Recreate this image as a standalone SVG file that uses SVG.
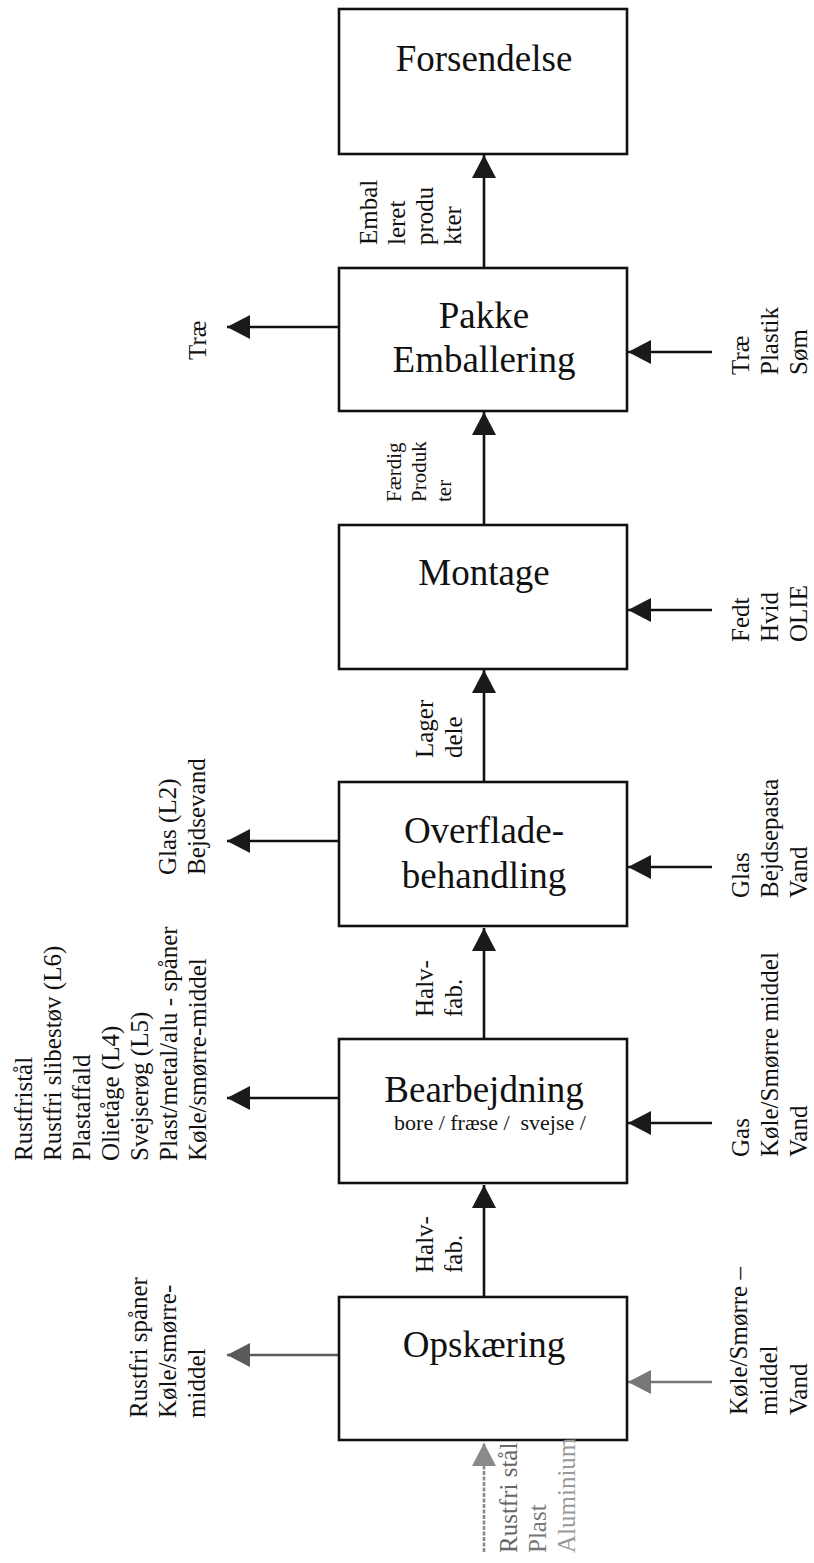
<svg xmlns="http://www.w3.org/2000/svg" width="814" height="1563" viewBox="0 0 814 1563">
<defs>
<style>
text{font-family:"Liberation Serif","Times New Roman",serif;fill:#111}
.t{font-size:37px;text-anchor:middle}
.s{font-size:22px;text-anchor:middle}
.l{font-size:25px}
.box{fill:#fff;stroke:#111;stroke-width:2.6}
.c{stroke:#111;stroke-width:2.6;fill:none}
</style>
<marker id="ah" markerUnits="userSpaceOnUse" markerWidth="24" markerHeight="24" refX="23" refY="12" orient="auto"><path d="M0,0 L23,12 L0,24 Z" fill="#1a1a1a"/></marker>
<marker id="ahg" markerUnits="userSpaceOnUse" markerWidth="24" markerHeight="24" refX="23" refY="12" orient="auto"><path d="M0,0 L23,12 L0,24 Z" fill="#5a5a5a"/></marker>
<marker id="ahl" markerUnits="userSpaceOnUse" markerWidth="24" markerHeight="24" refX="23" refY="12" orient="auto"><path d="M0,0 L23,12 L0,24 Z" fill="#777"/></marker>
<marker id="ahv" markerUnits="userSpaceOnUse" markerWidth="24" markerHeight="24" refX="23" refY="12" orient="auto"><path d="M0,0 L23,12 L0,24 Z" fill="#8a8a8a"/></marker>
</defs>
<rect width="814" height="1563" fill="#fff"/>

<g id="connectors">
<line class="c" x1="484" y1="268" x2="484" y2="155" marker-end="url(#ah)"/>
<line class="c" x1="484" y1="525" x2="484" y2="412" marker-end="url(#ah)"/>
<line class="c" x1="484" y1="782" x2="484" y2="670" marker-end="url(#ah)"/>
<line class="c" x1="484" y1="1039" x2="484" y2="928" marker-end="url(#ah)"/>
<line class="c" x1="484" y1="1297" x2="484" y2="1185" marker-end="url(#ah)"/>
<line x1="484" y1="1552" x2="484" y2="1443" stroke="#8a8a8a" stroke-width="2.6" stroke-dasharray="4 1.5" marker-end="url(#ahv)"/>

<line class="c" x1="339" y1="327" x2="227" y2="327" marker-end="url(#ah)"/>
<line class="c" x1="712" y1="352" x2="628" y2="352" marker-end="url(#ah)"/>
<line class="c" x1="712" y1="610" x2="628" y2="610" marker-end="url(#ah)"/>
<line class="c" x1="339" y1="841" x2="227" y2="841" marker-end="url(#ah)"/>
<line class="c" x1="712" y1="867" x2="628" y2="867" marker-end="url(#ah)"/>
<line class="c" x1="339" y1="1098" x2="227" y2="1098" marker-end="url(#ah)"/>
<line class="c" x1="712" y1="1123" x2="628" y2="1123" marker-end="url(#ah)"/>
<line x1="339" y1="1355" x2="227" y2="1355" stroke="#5a5a5a" stroke-width="2.6" marker-end="url(#ahg)"/>
<line x1="712" y1="1382" x2="628" y2="1382" stroke="#777" stroke-width="2.4" marker-end="url(#ahl)"/>
</g>

<g id="forsendelse">
<rect class="box" x="339" y="9" width="288" height="145"/>
<text class="t" x="484" y="71">Forsendelse</text>
</g>

<g id="pakke">
<rect class="box" x="339" y="268" width="288" height="143"/>
<text class="t" x="484" y="328">Pakke</text>
<text class="t" x="484" y="372">Emballering</text>
</g>

<g id="montage">
<rect class="box" x="339" y="525" width="288" height="144"/>
<text class="t" x="484" y="585">Montage</text>
</g>

<g id="overflade">
<rect class="box" x="339" y="782" width="288" height="144"/>
<text class="t" x="484" y="843">Overflade-</text>
<text class="t" x="484" y="888">behandling</text>
</g>

<g id="bearbejdning">
<rect class="box" x="339" y="1039" width="288" height="144"/>
<text class="t" x="484" y="1102">Bearbejdning</text>
<text class="s" x="490" y="1130" xml:space="preserve">bore / fræse /  svejse /</text>
</g>

<g id="opskaering">
<rect class="box" x="339" y="1297" width="288" height="143" stroke="#333"/>
<text class="t" x="484" y="1357">Opskæring</text>
</g>

<g id="labels">
<!-- Pakke -->
<text class="l" transform="translate(206,360) rotate(-90)">Træ</text>
<text class="l" transform="translate(749,375) rotate(-90)"><tspan x="0" y="0">Træ</tspan><tspan x="0" y="29">Plastik</tspan><tspan x="0" y="58">Søm</tspan></text>
<text class="l" transform="translate(377,245) rotate(-90)"><tspan x="0" y="0">Embal</tspan><tspan x="0" y="28">leret</tspan><tspan x="0" y="56">produ</tspan><tspan x="0" y="84">kter</tspan></text>
<!-- Montage -->
<text class="l" style="font-size:21px" transform="translate(401,502) rotate(-90)"><tspan x="0" y="0">Færdig</tspan><tspan x="0" y="25">Produk</tspan><tspan x="0" y="50">ter</tspan></text>
<text class="l" transform="translate(749,642) rotate(-90)"><tspan x="0" y="0">Fedt</tspan><tspan x="0" y="29">Hvid</tspan><tspan x="0" y="58">OLIE</tspan></text>
<!-- Overflade -->
<text class="l" transform="translate(433,758) rotate(-90)"><tspan x="0" y="0">Lager</tspan><tspan x="0" y="29">dele</tspan></text>
<text class="l" transform="translate(176,875) rotate(-90)"><tspan x="0" y="0">Glas (L2)</tspan><tspan x="0" y="29">Bejdsevand</tspan></text>
<text class="l" transform="translate(749,898) rotate(-90)"><tspan x="0" y="0">Glas</tspan><tspan x="0" y="29">Bejdsepasta</tspan><tspan x="0" y="58">Vand</tspan></text>
<!-- Bearbejdning -->
<text class="l" transform="translate(433,1017) rotate(-90)"><tspan x="0" y="0">Halv-</tspan><tspan x="0" y="29">fab.</tspan></text>
<text class="l" transform="translate(32,1161) rotate(-90)"><tspan x="0" y="0">Rustfristål</tspan><tspan x="0" y="29">Rustfri slibestøv (L6)</tspan><tspan x="0" y="58">Plastaffald</tspan><tspan x="0" y="87">Olietåge (L4)</tspan><tspan x="0" y="116">Svejserøg (L5)</tspan><tspan x="0" y="145">Plast/metal/alu - spåner</tspan><tspan x="0" y="174">Køle/smørre-middel</tspan></text>
<text class="l" transform="translate(749,1157) rotate(-90)"><tspan x="0" y="0">Gas</tspan><tspan x="0" y="29">Køle/Smørre middel</tspan><tspan x="0" y="58">Vand</tspan></text>
<!-- Opskæring -->
<text class="l" transform="translate(433,1273) rotate(-90)"><tspan x="0" y="0">Halv-</tspan><tspan x="0" y="29">fab.</tspan></text>
<text class="l" transform="translate(147,1418) rotate(-90)"><tspan x="0" y="0">Rustfri spåner</tspan><tspan x="0" y="29">Køle/smørre-</tspan><tspan x="0" y="58">middel</tspan></text>
<text class="l" transform="translate(747,1415) rotate(-90)"><tspan x="0" y="0">Køle/Smørre –</tspan><tspan x="0" y="30">middel</tspan><tspan x="0" y="60">Vand</tspan></text>
<text class="l" transform="translate(517,1553) rotate(-90)"><tspan x="0" y="0" fill="#666">Rustfri stål</tspan><tspan x="0" y="29" fill="#777">Plast</tspan><tspan x="0" y="58" fill="#999">Aluminium</tspan></text>
</g>
</svg>
